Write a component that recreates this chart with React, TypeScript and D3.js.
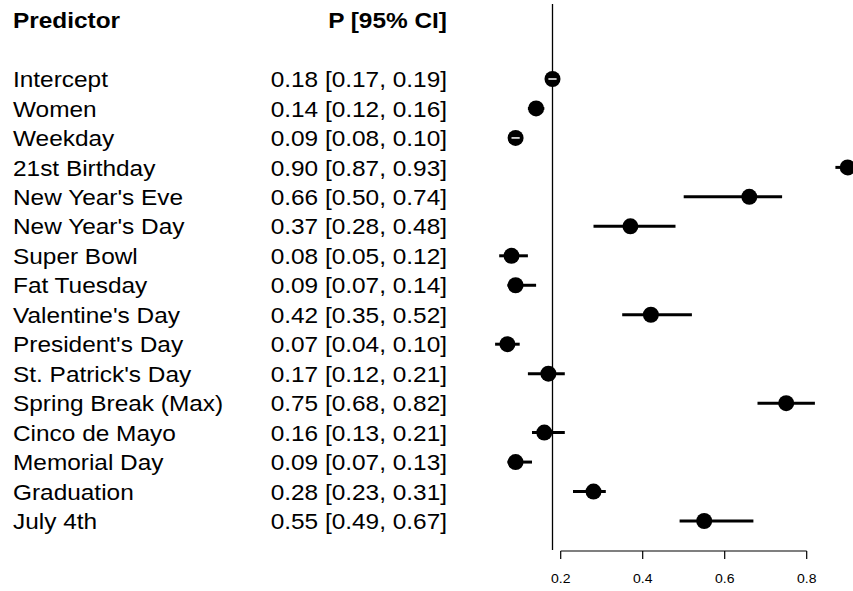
import React from "react";
import * as d3 from "d3";

const predictors = [
  "Intercept", "Women", "Weekday", "21st Birthday", "New Year's Eve",
  "New Year's Day", "Super Bowl", "Fat Tuesday", "Valentine's Day",
  "President's Day", "St. Patrick's Day", "Spring Break (Max)",
  "Cinco de Mayo", "Memorial Day", "Graduation", "July 4th",
];
const est = [0.18, 0.14, 0.09, 0.9, 0.66, 0.37, 0.08, 0.09, 0.42, 0.07, 0.17, 0.75, 0.16, 0.09, 0.28, 0.55];
const lower = [0.17, 0.12, 0.08, 0.87, 0.5, 0.28, 0.05, 0.07, 0.35, 0.04, 0.12, 0.68, 0.13, 0.07, 0.23, 0.49];
const upper = [0.19, 0.16, 0.1, 0.93, 0.74, 0.48, 0.12, 0.14, 0.52, 0.1, 0.21, 0.82, 0.21, 0.13, 0.31, 0.67];
const xTicks = [0.2, 0.4, 0.6, 0.8];
const refValue = 0.18;

const W = 853;
const H = 591;
const font = "'Liberation Sans', Arial, Helvetica, sans-serif";
// the original output is a bit stretched horizontally
const stretch = 1.12;

const Label = ({ x, y, size, anchor = "start", bold = false, sx = stretch, children }: any) => (
  <text
    transform={`translate(${x},${y}) scale(${sx},1)`}
    fontSize={size}
    fontWeight={bold ? "bold" : "normal"}
    textAnchor={anchor}
  >
    {children}
  </text>
);

export default function App() {
  const x = d3.scaleLinear().domain([0, 1]).range([478.7, 888.7]);
  const y = d3.scalePoint<number>()
    .domain(d3.range(predictors.length))
    .range([79, 521]);
  const f2 = d3.format(".2f");
  const r = 8;
  const axisY = 551;

  return (
    <svg width={W} height={H} style={{ position: "absolute", left: 0, top: 0 }} fontFamily={font}>
      <Label x={13} y={28.3} size={21.8} bold>Predictor</Label>
      <Label x={447} y={28.3} size={21.8} bold anchor="end">P [95% CI]</Label>

      {predictors.map((p, i) => (
        <g key={p}>
          <Label x={13} y={(y(i) as number) + 8.1} size={21.8}>{p}</Label>
          <Label x={447} y={(y(i) as number) + 8.1} size={21.8} anchor="end">
            {`${f2(est[i])} [${f2(lower[i])}, ${f2(upper[i])}]`}
          </Label>
        </g>
      ))}

      <line x1={x(refValue)} x2={x(refValue)} y1={4} y2={550} stroke="#000" strokeWidth={1.3} />

      {predictors.map((p, i) => {
        const cy = y(i) as number;
        const inside = x(upper[i]) - x(lower[i]) < 2 * r;
        return (
          <g key={"m" + p}>
            {!inside && (
              <line x1={x(lower[i])} x2={x(upper[i])} y1={cy} y2={cy} stroke="#000" strokeWidth={3} />
            )}
            <circle cx={x(est[i])} cy={cy} r={r} fill="#000" />
            {inside && (
              <line x1={x(lower[i])} x2={x(upper[i])} y1={cy} y2={cy} stroke="#fff" strokeWidth={1.5} />
            )}
          </g>
        );
      })}

      <g>
        <line x1={x(xTicks[0])} x2={x(xTicks[xTicks.length - 1])} y1={axisY} y2={axisY} stroke="#000" strokeWidth={1.2} />
        {xTicks.map((t) => (
          <g key={t}>
            <line x1={x(t)} x2={x(t)} y1={axisY} y2={axisY + 8} stroke="#000" strokeWidth={1.2} />
            <Label x={x(t)} y={582.5} size={13} anchor="middle" sx={1.08}>{t.toFixed(1)}</Label>
          </g>
        ))}
      </g>
    </svg>
  );
}
